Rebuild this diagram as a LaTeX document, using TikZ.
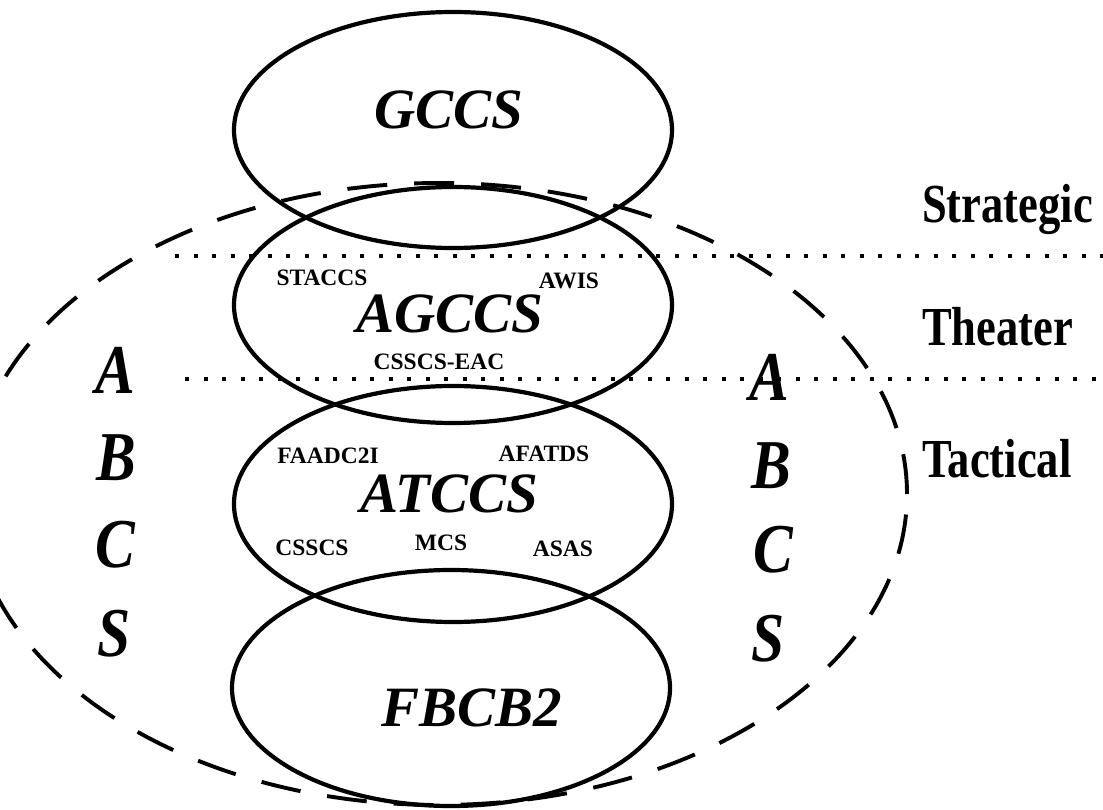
\documentclass[tikz,border=0pt]{standalone}
\usepackage{fontspec}
\setmainfont{Liberation Serif}
\newfontfamily\sidefont{Liberation Serif}[FakeStretch=0.85]
\newfontfamily\lvlfont{Liberation Serif}[FakeStretch=0.81]
\usetikzlibrary{shapes.geometric}
\pgfdeclarelayer{bg}
\pgfsetlayers{bg,main}
\tikzset{
    sys/.style={ellipse, draw, line width=4.2pt, inner sep=0pt, minimum width=438pt, minimum height=236pt},
    bigname/.style={font=\fontsize{57}{57}\selectfont\bfseries\itshape, anchor=base, inner sep=0pt},
    subname/.style={font=\fontsize{23.5}{24}\selectfont\bfseries, anchor=base, inner sep=0pt},
    lvl/.style={font=\lvlfont\fontsize{55}{55}\selectfont\bfseries, anchor=base west, inner sep=0pt},
    letter/.style={font=\sidefont\fontsize{70}{70}\selectfont\bfseries\itshape, anchor=base, inner sep=0pt},
    abcs/.style={ellipse, draw, line width=3.9pt, dash pattern=on 40pt off 27pt, inner sep=0pt, minimum width=936pt, minimum height=622pt},
    divider/.style={line width=4.2pt, dash pattern=on 4.2pt off 14.3pt}
}

\begin{document}
\begin{tikzpicture}[x=1pt, y=-1pt]
        \useasboundingbox (0,0) rectangle (1103,810);
        \node (gccs) [sys] at (453,130) {};
        \node (agccs) [sys] at (453,305) {};
        \node (atccs) [sys] at (453,504) {};
        \node (fbcb2) [sys] at (451,688) {};
        \node (t0) [bigname] at (449,129) {GCCS};
        \node (t1) [bigname] at (450,332) {AGCCS};
        \node (t2) [bigname] at (449,512) {ATCCS};
        \node (t3) [bigname] at (472,726) {FBCB2};
        \node (s0) [subname] at (322,286) {STACCS};
        \node (s1) [subname] at (569,289) {AWIS};
        \node (s2) [subname] at (439,369) {CSSCS-EAC};
        \node (s3) [subname] at (328,463) {FAADC2I};
        \node (s4) [subname] at (544,461) {AFATDS};
        \node (s5) [subname] at (312,555) {CSSCS};
        \node (s6) [subname] at (441,550) {MCS};
        \node (s7) [subname] at (563,556) {ASAS};
        \node (l0) [letter] at (115,393) {A};
        \node (l1) [letter] at (116,480) {B};
        \node (l2) [letter] at (115,567) {C};
        \node (l3) [letter] at (114,656) {S};
        \node (r0) [letter] at (769,400) {A};
        \node (r1) [letter] at (771,488) {B};
        \node (r2) [letter] at (773,572) {C};
        \node (r3) [letter] at (768,661) {S};
        \node (lv0) [lvl] at (922,223) {Strategic};
        \node (lv1) [lvl] at (922,345) {Theater};
        \node (lv2) [lvl] at (922,477) {Tactical};
        \coordinate (d0) at (175,256);
        \coordinate (d1) at (1103,256);
        \coordinate (d2) at (185,379);
        \coordinate (d3) at (1103,379);
        \begin{pgfonlayer}{bg}
                \node (abcs) [abcs] at (439,494) {};
                \draw [divider] (d0) -- (d1);
                \draw [divider] (d2) -- (d3);
        \end{pgfonlayer}
\end{tikzpicture}
\end{document}
